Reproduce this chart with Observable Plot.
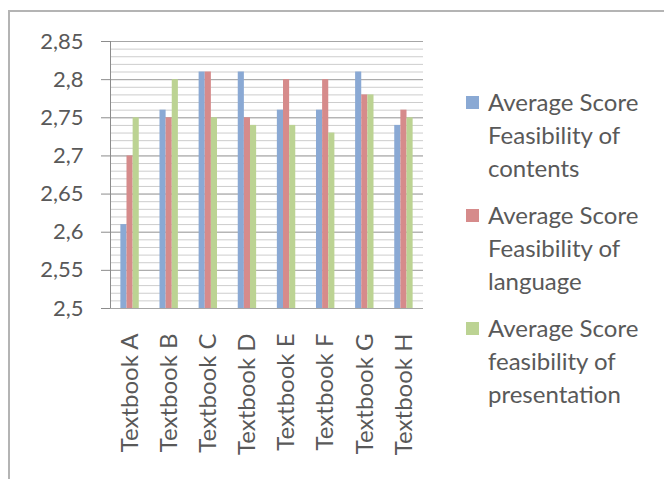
<!DOCTYPE html>
<html>
<head>
<meta charset="utf-8">
<script src="https://cdn.jsdelivr.net/npm/d3@7"></script>
<script src="https://cdn.jsdelivr.net/npm/@observablehq/plot@0.6"></script>
<style>
  body { margin: 0; background: #fff; }
  #wrap { position: relative; width: 664px; height: 479px; overflow: hidden; font-family: Lato, "Open Sans", sans-serif; background: #fff; }
  #border { position: absolute; left: 8px; top: 10px; width: 700px; height: 500px; border-top: 2px solid #b4b4b4; border-left: 2px solid #b4b4b4; }
  #chart { position: absolute; left: 0; top: 0; }
  #legend { position: absolute; left: 466px; top: 85px; color: #595959; font-size: 24px; line-height: 33px; }
  .item { position: relative; padding-left: 22px; margin-bottom: 14px; white-space: nowrap; }
  .swatch { position: absolute; left: 0; top: 11px; width: 13px; height: 13px; }
</style>
</head>
<body>
<div id="wrap">
  <div id="border"></div>
  <div id="chart"></div>
  <div id="legend"></div>
</div>
<script>
// Textbooks on the x axis
const books = ["Textbook A", "Textbook B", "Textbook C", "Textbook D", "Textbook E", "Textbook F", "Textbook G", "Textbook H"];

// Series names (legend lines) and colours
const seriesNames = [
  "Average Score Feasibility of contents",
  "Average Score Feasibility of language",
  "Average Score feasibility of presentation"
];
const legendLines = [
  ["Average Score", "Feasibility of", "contents"],
  ["Average Score", "Feasibility of", "language"],
  ["Average Score", "feasibility of", "presentation"]
];
const seriesColors = ["#8aa9d4", "#d68b8b", "#bcd393"];

// Average scores per textbook
const contents     = [2.61, 2.76, 2.81, 2.81, 2.76, 2.76, 2.81, 2.74];
const language     = [2.70, 2.75, 2.81, 2.75, 2.80, 2.80, 2.78, 2.76];
const presentation = [2.75, 2.80, 2.75, 2.74, 2.74, 2.73, 2.78, 2.75];

// Value axis
const yMin = 2.5, yMax = 2.85;
const yTicks = [2.5, 2.55, 2.6, 2.65, 2.7, 2.75, 2.8, 2.85];
const yMinorStep = 0.01;

const seriesValues = [contents, language, presentation];
const groupFrac = 0.47;            // share of each category slot taken by its bar cluster
const barFrac = groupFrac / 3;

const rows = [];
seriesValues.forEach((vals, j) => {
  vals.forEach((v, i) => {
    const x1 = i + (1 - groupFrac) / 2 + j * barFrac;
    rows.push({book: books[i], series: seriesNames[j], value: v, x1, x2: x1 + barFrac});
  });
});

const minorTicks = d3.range(Math.round((yMax - yMin) / yMinorStep) + 1).map(k => +(yMin + k * yMinorStep).toFixed(2));
const fmt = d => String(+d.toFixed(2)).replace(".", ",");

const chart = Plot.plot({
  width: 430,
  height: 479,
  marginLeft: 110,
  marginRight: 7,
  marginTop: 41,
  marginBottom: 171,
  style: {fontFamily: "Lato, 'Open Sans', sans-serif", fontSize: "22px", color: "#595959", background: "transparent"},
  x: {domain: [0, books.length], axis: null},
  y: {domain: [yMin, yMax], axis: null},
  color: {domain: seriesNames, range: seriesColors},
  marks: [
    Plot.ruleY(minorTicks, {stroke: "#cdcdcd", strokeWidth: 1}),
    Plot.ruleY(yTicks, {stroke: "#a6a6a6", strokeWidth: 1}),
    Plot.rect(rows, {x1: "x1", x2: "x2", y1: () => yMin, y2: "value", fill: "series"}),
    Plot.ruleX([0], {stroke: "#8c8c8c", strokeWidth: 1}),
    Plot.axisY({ticks: yTicks, tickFormat: fmt, tickSize: 9, tickPadding: 18, stroke: "#8c8c8c", fill: "#595959", fontSize: 22, label: null}),
    Plot.axisX({
      ticks: books.map((d, i) => i + 0.5),
      tickFormat: t => books[Math.floor(t)],
      tickRotate: -90, tickSize: 0, tickPadding: 25,
      fill: "#595959", fontSize: 24, label: null
    })
  ]
});
document.getElementById("chart").appendChild(chart);

// Legend on the right
const legend = document.getElementById("legend");
legendLines.forEach((lines, j) => {
  const item = document.createElement("div");
  item.className = "item";
  const sw = document.createElement("div");
  sw.className = "swatch";
  sw.style.background = seriesColors[j];
  item.appendChild(sw);
  lines.forEach(t => {
    const line = document.createElement("div");
    line.textContent = t;
    item.appendChild(line);
  });
  legend.appendChild(item);
});
</script>
</body>
</html>
